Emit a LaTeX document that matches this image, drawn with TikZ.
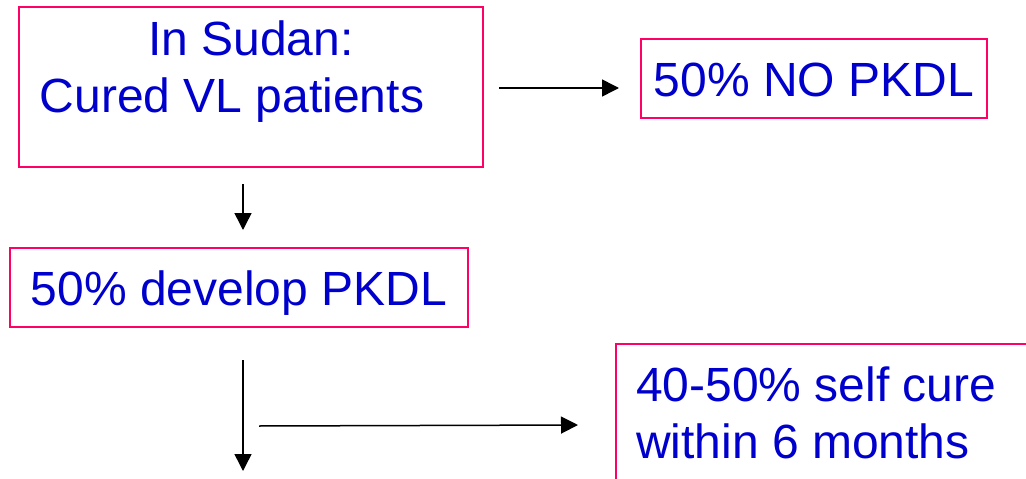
\documentclass[tikz,border=0pt]{standalone}
\usepackage{fontspec}
\setmainfont{Liberation Sans}
\usetikzlibrary{positioning,calc,arrows.meta}
\definecolor{boxpink}{RGB}{255,0,102}
\definecolor{txtblue}{RGB}{0,0,204}

\begin{document}
\begin{tikzpicture}[x=1pt,y=-1pt,
		box/.style={draw=boxpink,line width=2pt,inner sep=0pt},
		txt/.style={text=txtblue,font=\fontsize{48}{57}\selectfont,inner sep=0pt},
		arr/.style={line width=1.5pt,-{Triangle[length=17pt,width=17pt]}}
		]
	\useasboundingbox (0,0) rectangle (1026,479);
	\clip (0,0) rectangle (1026,479);

	\node[box,minimum width=464pt,minimum height=160pt] (cured) at (251,87) {};
	\node[txt,align=center,anchor=base] (curedtxt) at (232,112) {\hspace*{38pt}In Sudan:\\Cured VL patients};
	\node[box,txt,minimum width=346pt,minimum height=79pt,text height=35pt,text depth=0pt] (nopkdl) at (814,78.5) {50\% NO PKDL};
	\node[box,txt,minimum width=458pt,minimum height=79pt,text height=35pt,text depth=0pt] (develop) at (239,287.5) {50\% develop PKDL};
	\node[box,minimum width=500pt,minimum height=200pt,anchor=north west] (selfcure) at (615,343) {};
	\node[txt,align=left,anchor=base west] (selfcuretxt) at (636,458) {40-50\% self cure\\within 6 months};

	\coordinate (rest) at ($(develop.south)+(4,143)$);
	\draw[arr] ($(cured.east)+(15,1)$) -- ($(nopkdl.west |- cured.east)+(-21,1)$);
	\draw[arr] ($(cured.south)+(-8,16)$) -- ($(develop.north)+(4,-17)$);
	\draw[arr] ($(develop.south)+(4,32)$) -- (rest);
	\draw[arr] ($(develop.south)+(20,98)$) -- ($(selfcure.west |- develop.south)+(-37,97)$);
\end{tikzpicture}
\end{document}
